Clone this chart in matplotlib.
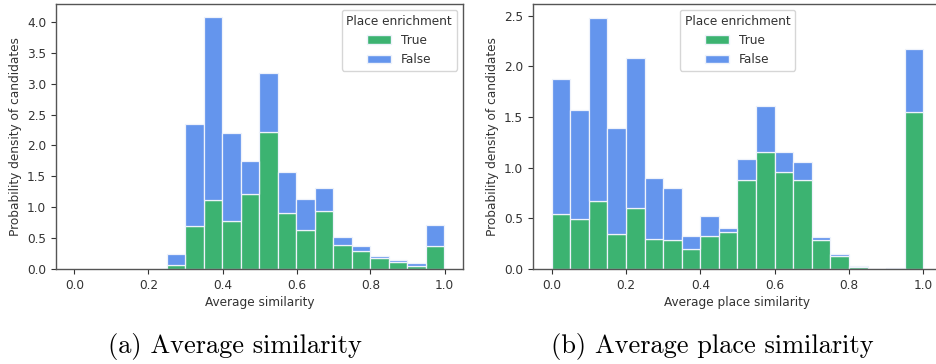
import numpy as np
import matplotlib
matplotlib.use("Agg")
import matplotlib.pyplot as plt
from matplotlib.patches import Patch

# bin edges (width 0.05)
edges_a = np.arange(0.25, 1.0001, 0.05)
edges_b = np.arange(0.0, 1.0001, 0.05)

# (a) Average similarity: stacked density (True on bottom, total = True + False)
true_a = [0.07, 0.69, 1.12, 0.78, 1.22, 2.22, 0.90, 0.63, 0.94, 0.39, 0.29, 0.17, 0.11, 0.05, 0.37]
total_a = [0.25, 2.34, 4.08, 2.20, 1.75, 3.17, 1.57, 1.14, 1.31, 0.52, 0.37, 0.21, 0.15, 0.09, 0.72]

# (b) Average place similarity
true_b = [0.54, 0.49, 0.67, 0.345, 0.60, 0.30, 0.285, 0.20, 0.33, 0.37,
          0.875, 1.15, 0.96, 0.875, 0.285, 0.125, 0.02, 0.0, 0.0, 1.55]
total_b = [1.87, 1.57, 2.48, 1.39, 2.08, 0.895, 0.80, 0.33, 0.52, 0.40,
           1.09, 1.605, 1.15, 1.06, 0.316, 0.148, 0.033, 0.0, 0.012, 2.17]

green = "#3CB371"
blue = "#6495ED"
edge = "#eef2fb"
txt = "#333333"
fs = 8.7

plt.rcParams["font.family"] = "DejaVu Sans"
plt.rcParams["font.size"] = fs

fig = plt.figure(figsize=(9.37, 3.64), dpi=100)
W, H = 937, 364
ax1 = fig.add_axes([56 / W, 1 - 269 / H, (463 - 56) / W, (269 - 4) / H])
ax2 = fig.add_axes([533 / W, 1 - 269 / H, (942 - 533) / W, (269 - 4) / H])


def draw(ax, edges, true_vals, total_vals, xlabel, ylim, legend_loc):
    true_vals = np.array(true_vals)
    false_vals = np.array(total_vals) - true_vals
    left = edges[:-1]
    ax.bar(left, true_vals, width=0.05, align="edge", color=green,
           edgecolor=edge, linewidth=0.9)
    ax.bar(left, false_vals, bottom=true_vals, width=0.05, align="edge",
           color=blue, edgecolor=edge, linewidth=0.9)
    ax.set_xlim(-0.05, 1.05)
    ax.set_ylim(*ylim)
    ax.set_xlabel(xlabel, color=txt, labelpad=3)
    ax.set_ylabel("Probability density of candidates", color=txt, labelpad=4)
    ax.tick_params(colors=txt, labelsize=fs, length=3.5, width=0.8)
    for s in ax.spines.values():
        s.set_color("#555555")
        s.set_linewidth(1.0)
    handles = [Patch(facecolor=green, edgecolor=edge), Patch(facecolor=blue, edgecolor=edge)]
    leg = ax.legend(handles, ["True", "False"], title="Place enrichment",
                    loc=legend_loc, fontsize=fs, title_fontsize=fs,
                    framealpha=0.8)
    for t in leg.get_texts():
        t.set_color(txt)
    leg.get_title().set_color(txt)


draw(ax1, edges_a, true_a, total_a, "Average similarity", (0, 4.29), "upper right")
draw(ax2, edges_b, true_b, total_b, "Average place similarity", (0, 2.615), "upper center")
ax1.set_yticks(np.arange(0, 4.01, 0.5))
ax2.set_yticks(np.arange(0, 2.51, 0.5))

fig.text(235 / W, 1 - 346 / H, "(a) Average similarity", family="cmr10",
         fontsize=19, ha="center", va="center")
fig.text(712 / W, 1 - 346 / H, "(b) Average place similarity", family="cmr10",
         fontsize=19, ha="center", va="center")

fig.savefig("out.png", dpi=100)
